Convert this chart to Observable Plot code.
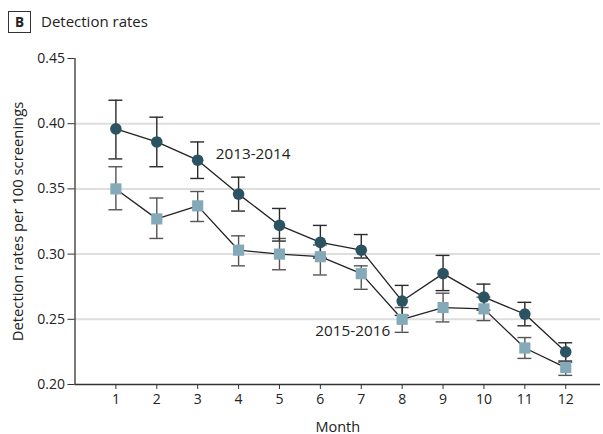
<!DOCTYPE html>
<html><head><meta charset="utf-8">
<script src="https://cdn.jsdelivr.net/npm/d3@7"></script>
<script src="https://cdn.jsdelivr.net/npm/@observablehq/plot@0.6"></script>
<style>
body{margin:0;background:#fff;font-family:"Open Sans",sans-serif;}
#hdr{position:relative;height:40px;width:603px;}
#box{position:absolute;left:8px;top:11px;width:21px;height:20px;border:1px solid #333;font-weight:bold;font-size:13.5px;line-height:20px;text-align:center;color:#222;}
#ttl{position:absolute;left:41px;top:10px;font-size:15px;color:#222;line-height:22px;}
</style></head>
<body>
<div id="hdr"><div id="box">B</div><div id="ttl">Detection rates</div></div>
<div id="chart"></div>
<script>
const months = [1,2,3,4,5,6,7,8,9,10,11,12];
const series = ["2013-2014","2015-2016"];
const rate1314 = [0.396,0.386,0.372,0.346,0.322,0.309,0.303,0.264,0.285,0.267,0.254,0.225];
const lo1314   = [0.373,0.367,0.358,0.333,0.310,0.297,0.297,0.253,0.272,0.257,0.245,0.218];
const hi1314   = [0.418,0.405,0.386,0.359,0.335,0.322,0.315,0.276,0.299,0.277,0.263,0.232];
const rate1516 = [0.350,0.327,0.337,0.303,0.300,0.298,0.285,0.250,0.259,0.258,0.228,0.213];
const lo1516   = [0.334,0.312,0.325,0.291,0.288,0.284,0.273,0.240,0.248,0.249,0.220,0.207];
const hi1516   = [0.367,0.343,0.348,0.314,0.312,0.307,0.291,0.259,0.270,0.267,0.236,0.217];
const yTicks = [0.20,0.25,0.30,0.35,0.40,0.45];
const gridTicks = [0.25,0.30,0.35,0.40];

const d1 = months.map((m,i)=>({month:m, rate:rate1314[i], lo:lo1314[i], hi:hi1314[i], series:series[0]}));
const d2 = months.map((m,i)=>({month:m, rate:rate1516[i], lo:lo1516[i], hi:hi1516[i], series:series[1]}));
const capHalf = 0.17;
const fontFam = '"Open Sans", sans-serif';

const chart = Plot.plot({
  width: 603, height: 394,
  marginLeft: 74.5, marginRight: 3, marginTop: 18, marginBottom: 50,
  x: {domain:[0,12.85]},
  y: {domain:[0.20,0.45]},
  style: {fontFamily: fontFam, fontSize: "14px", color:"#222", background:"#fff"},
  marks: [
    Plot.ruleY(gridTicks, {stroke:"#dedede", strokeWidth:2}),
    Plot.axisY({ticks: yTicks, tickFormat: d3.format(".2f"), tickSize: 7, tickPadding: 3,
      fontSize: 14, stroke:"#333", label: null}),
    Plot.axisY({ticks: [], tickSize: 0,
      label: "Detection rates per 100 screenings", labelAnchor: "center", labelArrow: "none", labelOffset: 63,
      fontSize: 14.8, stroke:"#333"}),
    Plot.axisX({ticks: months, tickFormat: d=>String(d), tickSize: 5, tickPadding: 5,
      fontSize: 14, stroke:"#333", label: null}),
    Plot.axisX({ticks: [], tickSize: 0,
      label: "Month", labelAnchor: "center", labelArrow: "none", labelOffset: 47,
      fontSize: 14.5, stroke:"#333"}),
    Plot.ruleX([0], {stroke:"#333", strokeWidth:1.3}),
    Plot.ruleY([0.20], {stroke:"#333", strokeWidth:1.3}),
    // error bars
    Plot.ruleX(d2, {x:"month", y1:"lo", y2:"hi", stroke:"#555", strokeWidth:1.4}),
    Plot.ruleY(d2, {y:"lo", x1:d=>d.month-capHalf, x2:d=>d.month+capHalf, stroke:"#555", strokeWidth:1.4}),
    Plot.ruleY(d2, {y:"hi", x1:d=>d.month-capHalf, x2:d=>d.month+capHalf, stroke:"#555", strokeWidth:1.4}),
    Plot.ruleX(d1, {x:"month", y1:"lo", y2:"hi", stroke:"#2a2a2a", strokeWidth:1.4}),
    Plot.ruleY(d1, {y:"lo", x1:d=>d.month-capHalf, x2:d=>d.month+capHalf, stroke:"#2a2a2a", strokeWidth:1.4}),
    Plot.ruleY(d1, {y:"hi", x1:d=>d.month-capHalf, x2:d=>d.month+capHalf, stroke:"#2a2a2a", strokeWidth:1.4}),
    // lines
    Plot.line(d2, {x:"month", y:"rate", stroke:"#222", strokeWidth:1.3}),
    Plot.line(d1, {x:"month", y:"rate", stroke:"#222", strokeWidth:1.3}),
    // markers
    Plot.dot(d2, {x:"month", y:"rate", symbol:"square", r:6.3, fill:"#84a9b8", stroke:"none"}),
    Plot.dot(d1, {x:"month", y:"rate", symbol:"circle", r:5.8, fill:"#2b5362", stroke:"none"}),
    // series labels
    Plot.text(d1.filter(d=>d.month===3), {x:"month", y:"rate", text:"series", textAnchor:"start", dx:18, dy:-6, fontSize:15.3, fill:"#222"}),
    Plot.text(d2.filter(d=>d.month===8), {x:"month", y:"rate", text:"series", textAnchor:"end", dx:-12, dy:12, fontSize:15.3, fill:"#222"})
  ]
});
document.getElementById("chart").appendChild(chart);
</script>
</body></html>
